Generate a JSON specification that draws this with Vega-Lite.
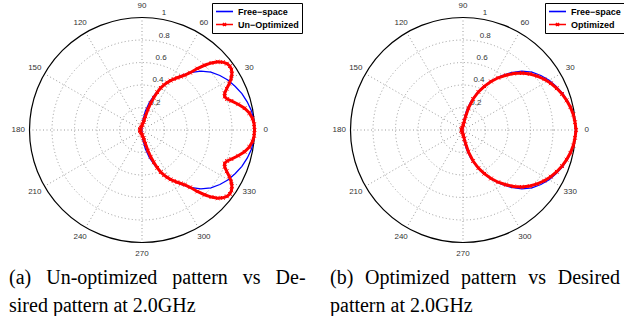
{
  "$schema": "https://vega.github.io/schema/vega-lite/v6.json",
  "padding": 0,
  "background": "white",
  "spacing": 37,
  "bounds": "flush",
  "config": {
    "view": {"stroke": null},
    "legend": {
      "title": null,
      "symbolType": "M-2,0L2,0",
      "symbolSize": 72,
      "symbolStrokeWidth": 1.6,
      "symbolOffset": 4,
      "labelOffset": 8,
      "labelFont": "Liberation Sans",
      "labelFontWeight": "bold",
      "labelFontSize": 9,
      "labelColor": "black",
      "strokeColor": "black",
      "fillColor": "white",
      "padding": 3,
      "cornerRadius": 0,
      "rowPadding": 2
    }
  },
  "resolve": {"scale": {"color": "independent", "shape": "independent"}, "legend": {"color": "independent", "shape": "independent"}},
  "datasets": {
    "rings": [{"r": 0.2}, {"r": 0.4}, {"r": 0.6}, {"r": 0.8}],
    "outer": [{"r": 1}],
    "spokes": [{"a": 0}, {"a": 30}, {"a": 60}, {"a": 90}, {"a": 120}, {"a": 150}, {"a": 180}, {"a": 210}, {"a": 240}, {"a": 270}, {"a": 300}, {"a": 330}],
    "alabels": [{"a": 0, "t": "0"}, {"a": 30, "t": "30"}, {"a": 60, "t": "60"}, {"a": 90, "t": "90"}, {"a": 120, "t": "120"}, {"a": 150, "t": "150"}, {"a": 180, "t": "180"}, {"a": 210, "t": "210"}, {"a": 240, "t": "240"}, {"a": 270, "t": "270"}, {"a": 300, "t": "300"}, {"a": 330, "t": "330"}],
    "rlabels": [{"r": 0.2, "t": "0.2"}, {"r": 0.4, "t": "0.4"}, {"r": 0.6, "t": "0.6"}, {"r": 0.8, "t": "0.8"}, {"r": 1, "t": "1"}],
    "left": [
      {"s": "Free\u2212space", "a": -180, "r": 0.01}, {"s": "Free\u2212space", "a": -135, "r": 0.01}, {"s": "Free\u2212space", "a": -90, "r": 0.012},
      {"s": "Free\u2212space", "a": -85, "r": 0.085}, {"s": "Free\u2212space", "a": -80, "r": 0.17}, {"s": "Free\u2212space", "a": -75, "r": 0.255},
      {"s": "Free\u2212space", "a": -70, "r": 0.34}, {"s": "Free\u2212space", "a": -65, "r": 0.425}, {"s": "Free\u2212space", "a": -60, "r": 0.505},
      {"s": "Free\u2212space", "a": -55, "r": 0.585}, {"s": "Free\u2212space", "a": -50, "r": 0.665}, {"s": "Free\u2212space", "a": -45, "r": 0.74},
      {"s": "Free\u2212space", "a": -40, "r": 0.8}, {"s": "Free\u2212space", "a": -35, "r": 0.845}, {"s": "Free\u2212space", "a": -30, "r": 0.885},
      {"s": "Free\u2212space", "a": -25, "r": 0.915}, {"s": "Free\u2212space", "a": -20, "r": 0.945}, {"s": "Free\u2212space", "a": -15, "r": 0.968},
      {"s": "Free\u2212space", "a": -10, "r": 0.988}, {"s": "Free\u2212space", "a": -5, "r": 0.997}, {"s": "Free\u2212space", "a": 0, "r": 1.0},
      {"s": "Free\u2212space", "a": 5, "r": 0.997}, {"s": "Free\u2212space", "a": 10, "r": 0.988}, {"s": "Free\u2212space", "a": 15, "r": 0.968},
      {"s": "Free\u2212space", "a": 20, "r": 0.945}, {"s": "Free\u2212space", "a": 25, "r": 0.915}, {"s": "Free\u2212space", "a": 30, "r": 0.885},
      {"s": "Free\u2212space", "a": 35, "r": 0.845}, {"s": "Free\u2212space", "a": 40, "r": 0.8}, {"s": "Free\u2212space", "a": 45, "r": 0.74},
      {"s": "Free\u2212space", "a": 50, "r": 0.665}, {"s": "Free\u2212space", "a": 55, "r": 0.585}, {"s": "Free\u2212space", "a": 60, "r": 0.505},
      {"s": "Free\u2212space", "a": 65, "r": 0.425}, {"s": "Free\u2212space", "a": 70, "r": 0.34}, {"s": "Free\u2212space", "a": 75, "r": 0.255},
      {"s": "Free\u2212space", "a": 80, "r": 0.17}, {"s": "Free\u2212space", "a": 85, "r": 0.085}, {"s": "Free\u2212space", "a": 90, "r": 0.012},
      {"s": "Free\u2212space", "a": 135, "r": 0.01}, {"s": "Free\u2212space", "a": 180, "r": 0.01},
      {"s": "Un\u2212Optimized", "a": -180, "r": 0.018}, {"s": "Un\u2212Optimized", "a": -150, "r": 0.018}, {"s": "Un\u2212Optimized", "a": -120, "r": 0.021},
      {"s": "Un\u2212Optimized", "a": -100, "r": 0.03}, {"s": "Un\u2212Optimized", "a": -90, "r": 0.042}, {"s": "Un\u2212Optimized", "a": -85, "r": 0.053},
      {"s": "Un\u2212Optimized", "a": -80, "r": 0.072}, {"s": "Un\u2212Optimized", "a": -78, "r": 0.092}, {"s": "Un\u2212Optimized", "a": -76, "r": 0.125},
      {"s": "Un\u2212Optimized", "a": -74, "r": 0.19}, {"s": "Un\u2212Optimized", "a": -72, "r": 0.25}, {"s": "Un\u2212Optimized", "a": -70, "r": 0.306},
      {"s": "Un\u2212Optimized", "a": -68, "r": 0.362}, {"s": "Un\u2212Optimized", "a": -66, "r": 0.41}, {"s": "Un\u2212Optimized", "a": -64, "r": 0.447},
      {"s": "Un\u2212Optimized", "a": -62, "r": 0.478}, {"s": "Un\u2212Optimized", "a": -60, "r": 0.507}, {"s": "Un\u2212Optimized", "a": -58, "r": 0.533},
      {"s": "Un\u2212Optimized", "a": -56, "r": 0.56}, {"s": "Un\u2212Optimized", "a": -54, "r": 0.588}, {"s": "Un\u2212Optimized", "a": -52, "r": 0.618},
      {"s": "Un\u2212Optimized", "a": -50, "r": 0.665}, {"s": "Un\u2212Optimized", "a": -48, "r": 0.735}, {"s": "Un\u2212Optimized", "a": -46, "r": 0.8},
      {"s": "Un\u2212Optimized", "a": -44, "r": 0.858}, {"s": "Un\u2212Optimized", "a": -42, "r": 0.905}, {"s": "Un\u2212Optimized", "a": -40, "r": 0.938},
      {"s": "Un\u2212Optimized", "a": -38, "r": 0.958}, {"s": "Un\u2212Optimized", "a": -36, "r": 0.966}, {"s": "Un\u2212Optimized", "a": -34, "r": 0.96},
      {"s": "Un\u2212Optimized", "a": -32, "r": 0.942}, {"s": "Un\u2212Optimized", "a": -30, "r": 0.915}, {"s": "Un\u2212Optimized", "a": -28, "r": 0.878},
      {"s": "Un\u2212Optimized", "a": -26, "r": 0.838}, {"s": "Un\u2212Optimized", "a": -24, "r": 0.805}, {"s": "Un\u2212Optimized", "a": -22, "r": 0.792},
      {"s": "Un\u2212Optimized", "a": -20, "r": 0.805}, {"s": "Un\u2212Optimized", "a": -18, "r": 0.835}, {"s": "Un\u2212Optimized", "a": -15, "r": 0.885},
      {"s": "Un\u2212Optimized", "a": -12, "r": 0.932}, {"s": "Un\u2212Optimized", "a": -9, "r": 0.966}, {"s": "Un\u2212Optimized", "a": -6, "r": 0.988},
      {"s": "Un\u2212Optimized", "a": -3, "r": 0.998}, {"s": "Un\u2212Optimized", "a": 0, "r": 1.0}, {"s": "Un\u2212Optimized", "a": 3, "r": 0.998},
      {"s": "Un\u2212Optimized", "a": 6, "r": 0.988}, {"s": "Un\u2212Optimized", "a": 9, "r": 0.966}, {"s": "Un\u2212Optimized", "a": 12, "r": 0.932},
      {"s": "Un\u2212Optimized", "a": 15, "r": 0.885}, {"s": "Un\u2212Optimized", "a": 18, "r": 0.835}, {"s": "Un\u2212Optimized", "a": 20, "r": 0.805},
      {"s": "Un\u2212Optimized", "a": 22, "r": 0.792}, {"s": "Un\u2212Optimized", "a": 24, "r": 0.805}, {"s": "Un\u2212Optimized", "a": 26, "r": 0.838},
      {"s": "Un\u2212Optimized", "a": 28, "r": 0.878}, {"s": "Un\u2212Optimized", "a": 30, "r": 0.915}, {"s": "Un\u2212Optimized", "a": 32, "r": 0.942},
      {"s": "Un\u2212Optimized", "a": 34, "r": 0.96}, {"s": "Un\u2212Optimized", "a": 36, "r": 0.966}, {"s": "Un\u2212Optimized", "a": 38, "r": 0.958},
      {"s": "Un\u2212Optimized", "a": 40, "r": 0.938}, {"s": "Un\u2212Optimized", "a": 42, "r": 0.905}, {"s": "Un\u2212Optimized", "a": 44, "r": 0.858},
      {"s": "Un\u2212Optimized", "a": 46, "r": 0.8}, {"s": "Un\u2212Optimized", "a": 48, "r": 0.735}, {"s": "Un\u2212Optimized", "a": 50, "r": 0.665},
      {"s": "Un\u2212Optimized", "a": 52, "r": 0.618}, {"s": "Un\u2212Optimized", "a": 54, "r": 0.588}, {"s": "Un\u2212Optimized", "a": 56, "r": 0.56},
      {"s": "Un\u2212Optimized", "a": 58, "r": 0.533}, {"s": "Un\u2212Optimized", "a": 60, "r": 0.507}, {"s": "Un\u2212Optimized", "a": 62, "r": 0.478},
      {"s": "Un\u2212Optimized", "a": 64, "r": 0.447}, {"s": "Un\u2212Optimized", "a": 66, "r": 0.41}, {"s": "Un\u2212Optimized", "a": 68, "r": 0.362},
      {"s": "Un\u2212Optimized", "a": 70, "r": 0.306}, {"s": "Un\u2212Optimized", "a": 72, "r": 0.25}, {"s": "Un\u2212Optimized", "a": 74, "r": 0.19},
      {"s": "Un\u2212Optimized", "a": 76, "r": 0.125}, {"s": "Un\u2212Optimized", "a": 78, "r": 0.092}, {"s": "Un\u2212Optimized", "a": 80, "r": 0.072},
      {"s": "Un\u2212Optimized", "a": 85, "r": 0.053}, {"s": "Un\u2212Optimized", "a": 90, "r": 0.042}, {"s": "Un\u2212Optimized", "a": 100, "r": 0.03},
      {"s": "Un\u2212Optimized", "a": 120, "r": 0.021}, {"s": "Un\u2212Optimized", "a": 150, "r": 0.018}, {"s": "Un\u2212Optimized", "a": 180, "r": 0.018}
    ],
    "right": [
      {"s": "Free\u2212space", "a": -180, "r": 0.01}, {"s": "Free\u2212space", "a": -135, "r": 0.01}, {"s": "Free\u2212space", "a": -90, "r": 0.012},
      {"s": "Free\u2212space", "a": -85, "r": 0.085}, {"s": "Free\u2212space", "a": -80, "r": 0.17}, {"s": "Free\u2212space", "a": -75, "r": 0.255},
      {"s": "Free\u2212space", "a": -70, "r": 0.34}, {"s": "Free\u2212space", "a": -65, "r": 0.425}, {"s": "Free\u2212space", "a": -60, "r": 0.505},
      {"s": "Free\u2212space", "a": -55, "r": 0.585}, {"s": "Free\u2212space", "a": -50, "r": 0.665}, {"s": "Free\u2212space", "a": -45, "r": 0.74},
      {"s": "Free\u2212space", "a": -40, "r": 0.8}, {"s": "Free\u2212space", "a": -35, "r": 0.845}, {"s": "Free\u2212space", "a": -30, "r": 0.885},
      {"s": "Free\u2212space", "a": -25, "r": 0.915}, {"s": "Free\u2212space", "a": -20, "r": 0.945}, {"s": "Free\u2212space", "a": -15, "r": 0.968},
      {"s": "Free\u2212space", "a": -10, "r": 0.988}, {"s": "Free\u2212space", "a": -5, "r": 0.997}, {"s": "Free\u2212space", "a": 0, "r": 1.0},
      {"s": "Free\u2212space", "a": 5, "r": 0.997}, {"s": "Free\u2212space", "a": 10, "r": 0.988}, {"s": "Free\u2212space", "a": 15, "r": 0.968},
      {"s": "Free\u2212space", "a": 20, "r": 0.945}, {"s": "Free\u2212space", "a": 25, "r": 0.915}, {"s": "Free\u2212space", "a": 30, "r": 0.885},
      {"s": "Free\u2212space", "a": 35, "r": 0.845}, {"s": "Free\u2212space", "a": 40, "r": 0.8}, {"s": "Free\u2212space", "a": 45, "r": 0.74},
      {"s": "Free\u2212space", "a": 50, "r": 0.665}, {"s": "Free\u2212space", "a": 55, "r": 0.585}, {"s": "Free\u2212space", "a": 60, "r": 0.505},
      {"s": "Free\u2212space", "a": 65, "r": 0.425}, {"s": "Free\u2212space", "a": 70, "r": 0.34}, {"s": "Free\u2212space", "a": 75, "r": 0.255},
      {"s": "Free\u2212space", "a": 80, "r": 0.17}, {"s": "Free\u2212space", "a": 85, "r": 0.085}, {"s": "Free\u2212space", "a": 90, "r": 0.012},
      {"s": "Free\u2212space", "a": 135, "r": 0.01}, {"s": "Free\u2212space", "a": 180, "r": 0.01},
      {"s": "Optimized", "a": -180, "r": 0.012}, {"s": "Optimized", "a": -150, "r": 0.013}, {"s": "Optimized", "a": -110, "r": 0.022},
      {"s": "Optimized", "a": -90, "r": 0.04}, {"s": "Optimized", "a": -86, "r": 0.05}, {"s": "Optimized", "a": -82, "r": 0.08},
      {"s": "Optimized", "a": -79, "r": 0.125}, {"s": "Optimized", "a": -76, "r": 0.2}, {"s": "Optimized", "a": -72, "r": 0.29},
      {"s": "Optimized", "a": -68, "r": 0.365}, {"s": "Optimized", "a": -64, "r": 0.432}, {"s": "Optimized", "a": -60, "r": 0.498},
      {"s": "Optimized", "a": -56, "r": 0.56}, {"s": "Optimized", "a": -52, "r": 0.618}, {"s": "Optimized", "a": -48, "r": 0.675},
      {"s": "Optimized", "a": -44, "r": 0.728}, {"s": "Optimized", "a": -40, "r": 0.775}, {"s": "Optimized", "a": -36, "r": 0.815},
      {"s": "Optimized", "a": -32, "r": 0.852}, {"s": "Optimized", "a": -28, "r": 0.884}, {"s": "Optimized", "a": -24, "r": 0.912},
      {"s": "Optimized", "a": -20, "r": 0.937}, {"s": "Optimized", "a": -16, "r": 0.958}, {"s": "Optimized", "a": -12, "r": 0.976},
      {"s": "Optimized", "a": -8, "r": 0.99}, {"s": "Optimized", "a": -4, "r": 0.998}, {"s": "Optimized", "a": 0, "r": 1.005},
      {"s": "Optimized", "a": 4, "r": 0.998}, {"s": "Optimized", "a": 8, "r": 0.99}, {"s": "Optimized", "a": 12, "r": 0.976},
      {"s": "Optimized", "a": 16, "r": 0.958}, {"s": "Optimized", "a": 20, "r": 0.937}, {"s": "Optimized", "a": 24, "r": 0.912},
      {"s": "Optimized", "a": 28, "r": 0.884}, {"s": "Optimized", "a": 32, "r": 0.852}, {"s": "Optimized", "a": 36, "r": 0.815},
      {"s": "Optimized", "a": 40, "r": 0.775}, {"s": "Optimized", "a": 44, "r": 0.728}, {"s": "Optimized", "a": 48, "r": 0.675},
      {"s": "Optimized", "a": 52, "r": 0.618}, {"s": "Optimized", "a": 56, "r": 0.56}, {"s": "Optimized", "a": 60, "r": 0.498},
      {"s": "Optimized", "a": 64, "r": 0.432}, {"s": "Optimized", "a": 68, "r": 0.365}, {"s": "Optimized", "a": 72, "r": 0.29},
      {"s": "Optimized", "a": 76, "r": 0.2}, {"s": "Optimized", "a": 79, "r": 0.125}, {"s": "Optimized", "a": 82, "r": 0.08},
      {"s": "Optimized", "a": 86, "r": 0.05}, {"s": "Optimized", "a": 90, "r": 0.04}, {"s": "Optimized", "a": 110, "r": 0.022},
      {"s": "Optimized", "a": 150, "r": 0.013}, {"s": "Optimized", "a": 180, "r": 0.012}
    ]
  },
  "hconcat": [
    {
      "width": 284,
      "height": 260,
      "title": {
        "text": ["(a)\u2002\u2005Un-optimized\u2002\u2005pattern\u2002\u2005vs\u2002\u2005De-", "sired pattern at 2.0GHz"],
        "orient": "bottom", "anchor": "start", "frame": "group", "dx": 9, "offset": 8, "baseline": "top",
        "font": "Liberation Serif", "fontSize": 20, "fontWeight": "normal", "color": "black", "lineHeight": 28
      },
      "layer": [
        {
          "data": {"name": "rings"},
          "transform": [{"calculate": "0", "as": "o"}],
          "mark": {"type": "point", "shape": "circle", "filled": false, "stroke": "#9a9a9a", "strokeWidth": 1, "strokeDash": [1, 2.5], "opacity": 1},
          "encoding": {
            "x": {"field": "o", "type": "quantitative", "scale": {"domain": [-1.2622, 1.2622], "nice": false, "zero": false}, "axis": null},
            "y": {"field": "o", "type": "quantitative", "scale": {"domain": [-1.1556, 1.1556], "nice": false, "zero": false}, "axis": null},
            "size": {"field": "r", "type": "quantitative", "scale": {"type": "pow", "exponent": 2, "domain": [0, 1], "range": [0, 50625], "zero": true, "nice": false}, "legend": null}
          }
        },
        {
          "data": {"name": "spokes"},
          "transform": [{"calculate": "0", "as": "o"}, {"calculate": "cos(datum.a*PI/180)", "as": "cx"}, {"calculate": "sin(datum.a*PI/180)", "as": "cy"}],
          "mark": {"type": "rule", "stroke": "#9a9a9a", "strokeWidth": 1, "strokeDash": [1, 2.5]},
          "encoding": {
            "x": {"field": "o", "type": "quantitative", "scale": {"domain": [-1.2622, 1.2622], "nice": false, "zero": false}, "axis": null},
            "y": {"field": "o", "type": "quantitative", "scale": {"domain": [-1.1556, 1.1556], "nice": false, "zero": false}, "axis": null},
            "x2": {"field": "cx"},
            "y2": {"field": "cy"}
          }
        },
        {
          "data": {"name": "outer"},
          "transform": [{"calculate": "0", "as": "o"}],
          "mark": {"type": "point", "shape": "circle", "filled": false, "stroke": "black", "strokeWidth": 1.2, "opacity": 1},
          "encoding": {
            "x": {"field": "o", "type": "quantitative", "scale": {"domain": [-1.2622, 1.2622], "nice": false, "zero": false}, "axis": null},
            "y": {"field": "o", "type": "quantitative", "scale": {"domain": [-1.1556, 1.1556], "nice": false, "zero": false}, "axis": null},
            "size": {"field": "r", "type": "quantitative", "scale": {"type": "pow", "exponent": 2, "domain": [0, 1], "range": [0, 50625], "zero": true, "nice": false}, "legend": null}
          }
        },
        {
          "data": {"name": "alabels"},
          "transform": [{"calculate": "1.1*cos(datum.a*PI/180)", "as": "lx"}, {"calculate": "1.1*sin(datum.a*PI/180)", "as": "ly"}],
          "mark": {"type": "text", "font": "Liberation Sans", "fontSize": 8, "color": "#333333", "align": "center", "baseline": "middle"},
          "encoding": {
            "x": {"field": "lx", "type": "quantitative", "scale": {"domain": [-1.2622, 1.2622], "nice": false, "zero": false}, "axis": null},
            "y": {"field": "ly", "type": "quantitative", "scale": {"domain": [-1.1556, 1.1556], "nice": false, "zero": false}, "axis": null},
            "text": {"field": "t"}
          }
        },
        {
          "data": {"name": "rlabels"},
          "transform": [{"calculate": "(datum.r+0.01)*cos(82*PI/180)", "as": "lx"}, {"calculate": "(datum.r+0.01)*sin(82*PI/180)", "as": "ly"}],
          "mark": {"type": "text", "font": "Liberation Sans", "fontSize": 8, "color": "#333333", "align": "left", "baseline": "bottom", "dx": 4},
          "encoding": {
            "x": {"field": "lx", "type": "quantitative", "scale": {"domain": [-1.2622, 1.2622], "nice": false, "zero": false}, "axis": null},
            "y": {"field": "ly", "type": "quantitative", "scale": {"domain": [-1.1556, 1.1556], "nice": false, "zero": false}, "axis": null},
            "text": {"field": "t"}
          }
        },
        {
          "data": {"name": "left"},
          "transform": [{"filter": "datum.s == 'Free\u2212space'"}, {"calculate": "datum.r*cos(datum.a*PI/180)", "as": "x"}, {"calculate": "datum.r*sin(datum.a*PI/180)", "as": "y"}],
          "mark": {"type": "line", "strokeWidth": 1.3},
          "encoding": {
            "x": {"field": "x", "type": "quantitative", "scale": {"domain": [-1.2622, 1.2622], "nice": false, "zero": false}, "axis": null},
            "y": {"field": "y", "type": "quantitative", "scale": {"domain": [-1.1556, 1.1556], "nice": false, "zero": false}, "axis": null},
            "order": {"field": "a", "type": "quantitative"},
            "color": {"field": "s", "type": "nominal", "scale": {"domain": ["Free\u2212space", "Un\u2212Optimized"], "range": ["#0000ff", "#ff0000"]}, "legend": {"orient": "none", "legendX": 212, "legendY": 3}}
          }
        },
        {
          "data": {"name": "left"},
          "transform": [{"filter": "datum.s != 'Free\u2212space'"}, {"calculate": "datum.r*cos(datum.a*PI/180)", "as": "x"}, {"calculate": "datum.r*sin(datum.a*PI/180)", "as": "y"}],
          "mark": {"type": "line", "strokeWidth": 3},
          "encoding": {
            "x": {"field": "x", "type": "quantitative", "scale": {"domain": [-1.2622, 1.2622], "nice": false, "zero": false}, "axis": null},
            "y": {"field": "y", "type": "quantitative", "scale": {"domain": [-1.1556, 1.1556], "nice": false, "zero": false}, "axis": null},
            "order": {"field": "a", "type": "quantitative"},
            "color": {"field": "s", "type": "nominal", "scale": {"domain": ["Free\u2212space", "Un\u2212Optimized"], "range": ["#0000ff", "#ff0000"]}, "legend": {"orient": "none", "legendX": 212, "legendY": 3}}
          }
        },
        {
          "data": {"name": "left"},
          "transform": [{"filter": "datum.s != 'Free\u2212space'"}, {"calculate": "datum.r*cos(datum.a*PI/180)", "as": "x"}, {"calculate": "datum.r*sin(datum.a*PI/180)", "as": "y"}],
          "mark": {"type": "point", "shape": "M-1,-1L1,1M-1,1L1,-1", "size": 14, "strokeWidth": 1, "filled": false, "opacity": 1},
          "encoding": {
            "x": {"field": "x", "type": "quantitative", "scale": {"domain": [-1.2622, 1.2622], "nice": false, "zero": false}, "axis": null},
            "y": {"field": "y", "type": "quantitative", "scale": {"domain": [-1.1556, 1.1556], "nice": false, "zero": false}, "axis": null},
            "color": {"field": "s", "type": "nominal", "scale": {"domain": ["Free\u2212space", "Un\u2212Optimized"], "range": ["#0000ff", "#ff0000"]}, "legend": {"orient": "none", "legendX": 212, "legendY": 3}}
          }
        },
        {
          "data": {"name": "left"},
          "transform": [{"filter": "false"}],
          "mark": {"type": "point", "filled": false, "strokeWidth": 1.6, "opacity": 1},
          "encoding": {
            "x": {"field": "a", "type": "quantitative", "scale": {"domain": [-1.2622, 1.2622], "nice": false, "zero": false}, "axis": null},
            "y": {"field": "r", "type": "quantitative", "scale": {"domain": [-1.1556, 1.1556], "nice": false, "zero": false}, "axis": null},
            "color": {"field": "s", "type": "nominal", "scale": {"domain": ["Free\u2212space", "Un\u2212Optimized"], "range": ["#0000ff", "#ff0000"]}, "legend": {"orient": "none", "legendX": 212, "legendY": 3}},
            "shape": {"field": "s", "type": "nominal", "scale": {"domain": ["Free\u2212space", "Un\u2212Optimized"], "range": ["M-2,0L2,0", "M-2,0L2,0M-0.35,-0.35L0.35,0.35M-0.35,0.35L0.35,-0.35"]}, "legend": {"orient": "none", "legendX": 212, "legendY": 3}}
          }
        }
      ]
    },
    {
      "width": 284,
      "height": 260,
      "title": {
        "text": ["(b)\u2002\u200AOptimized\u2002\u200Apattern\u2002\u200Avs\u2002\u200ADesired", "pattern at 2.0GHz"],
        "orient": "bottom", "anchor": "start", "frame": "group", "dx": 9, "offset": 8, "baseline": "top",
        "font": "Liberation Serif", "fontSize": 20, "fontWeight": "normal", "color": "black", "lineHeight": 28
      },
      "layer": [
        {
          "data": {"name": "rings"},
          "transform": [{"calculate": "0", "as": "o"}],
          "mark": {"type": "point", "shape": "circle", "filled": false, "stroke": "#9a9a9a", "strokeWidth": 1, "strokeDash": [1, 2.5], "opacity": 1},
          "encoding": {
            "x": {"field": "o", "type": "quantitative", "scale": {"domain": [-1.2622, 1.2622], "nice": false, "zero": false}, "axis": null},
            "y": {"field": "o", "type": "quantitative", "scale": {"domain": [-1.1556, 1.1556], "nice": false, "zero": false}, "axis": null},
            "size": {"field": "r", "type": "quantitative", "scale": {"type": "pow", "exponent": 2, "domain": [0, 1], "range": [0, 50625], "zero": true, "nice": false}, "legend": null}
          }
        },
        {
          "data": {"name": "spokes"},
          "transform": [{"calculate": "0", "as": "o"}, {"calculate": "cos(datum.a*PI/180)", "as": "cx"}, {"calculate": "sin(datum.a*PI/180)", "as": "cy"}],
          "mark": {"type": "rule", "stroke": "#9a9a9a", "strokeWidth": 1, "strokeDash": [1, 2.5]},
          "encoding": {
            "x": {"field": "o", "type": "quantitative", "scale": {"domain": [-1.2622, 1.2622], "nice": false, "zero": false}, "axis": null},
            "y": {"field": "o", "type": "quantitative", "scale": {"domain": [-1.1556, 1.1556], "nice": false, "zero": false}, "axis": null},
            "x2": {"field": "cx"},
            "y2": {"field": "cy"}
          }
        },
        {
          "data": {"name": "outer"},
          "transform": [{"calculate": "0", "as": "o"}],
          "mark": {"type": "point", "shape": "circle", "filled": false, "stroke": "black", "strokeWidth": 1.2, "opacity": 1},
          "encoding": {
            "x": {"field": "o", "type": "quantitative", "scale": {"domain": [-1.2622, 1.2622], "nice": false, "zero": false}, "axis": null},
            "y": {"field": "o", "type": "quantitative", "scale": {"domain": [-1.1556, 1.1556], "nice": false, "zero": false}, "axis": null},
            "size": {"field": "r", "type": "quantitative", "scale": {"type": "pow", "exponent": 2, "domain": [0, 1], "range": [0, 50625], "zero": true, "nice": false}, "legend": null}
          }
        },
        {
          "data": {"name": "alabels"},
          "transform": [{"calculate": "1.1*cos(datum.a*PI/180)", "as": "lx"}, {"calculate": "1.1*sin(datum.a*PI/180)", "as": "ly"}],
          "mark": {"type": "text", "font": "Liberation Sans", "fontSize": 8, "color": "#333333", "align": "center", "baseline": "middle"},
          "encoding": {
            "x": {"field": "lx", "type": "quantitative", "scale": {"domain": [-1.2622, 1.2622], "nice": false, "zero": false}, "axis": null},
            "y": {"field": "ly", "type": "quantitative", "scale": {"domain": [-1.1556, 1.1556], "nice": false, "zero": false}, "axis": null},
            "text": {"field": "t"}
          }
        },
        {
          "data": {"name": "rlabels"},
          "transform": [{"calculate": "(datum.r+0.01)*cos(82*PI/180)", "as": "lx"}, {"calculate": "(datum.r+0.01)*sin(82*PI/180)", "as": "ly"}],
          "mark": {"type": "text", "font": "Liberation Sans", "fontSize": 8, "color": "#333333", "align": "left", "baseline": "bottom", "dx": 4},
          "encoding": {
            "x": {"field": "lx", "type": "quantitative", "scale": {"domain": [-1.2622, 1.2622], "nice": false, "zero": false}, "axis": null},
            "y": {"field": "ly", "type": "quantitative", "scale": {"domain": [-1.1556, 1.1556], "nice": false, "zero": false}, "axis": null},
            "text": {"field": "t"}
          }
        },
        {
          "data": {"name": "right"},
          "transform": [{"filter": "datum.s == 'Free\u2212space'"}, {"calculate": "datum.r*cos(datum.a*PI/180)", "as": "x"}, {"calculate": "datum.r*sin(datum.a*PI/180)", "as": "y"}],
          "mark": {"type": "line", "strokeWidth": 1.3},
          "encoding": {
            "x": {"field": "x", "type": "quantitative", "scale": {"domain": [-1.2622, 1.2622], "nice": false, "zero": false}, "axis": null},
            "y": {"field": "y", "type": "quantitative", "scale": {"domain": [-1.1556, 1.1556], "nice": false, "zero": false}, "axis": null},
            "order": {"field": "a", "type": "quantitative"},
            "color": {"field": "s", "type": "nominal", "scale": {"domain": ["Free\u2212space", "Optimized"], "range": ["#0000ff", "#ff0000"]}, "legend": {"orient": "none", "legendX": 224, "legendY": 3}}
          }
        },
        {
          "data": {"name": "right"},
          "transform": [{"filter": "datum.s != 'Free\u2212space'"}, {"calculate": "datum.r*cos(datum.a*PI/180)", "as": "x"}, {"calculate": "datum.r*sin(datum.a*PI/180)", "as": "y"}],
          "mark": {"type": "line", "strokeWidth": 3},
          "encoding": {
            "x": {"field": "x", "type": "quantitative", "scale": {"domain": [-1.2622, 1.2622], "nice": false, "zero": false}, "axis": null},
            "y": {"field": "y", "type": "quantitative", "scale": {"domain": [-1.1556, 1.1556], "nice": false, "zero": false}, "axis": null},
            "order": {"field": "a", "type": "quantitative"},
            "color": {"field": "s", "type": "nominal", "scale": {"domain": ["Free\u2212space", "Optimized"], "range": ["#0000ff", "#ff0000"]}, "legend": {"orient": "none", "legendX": 224, "legendY": 3}}
          }
        },
        {
          "data": {"name": "right"},
          "transform": [{"filter": "datum.s != 'Free\u2212space'"}, {"calculate": "datum.r*cos(datum.a*PI/180)", "as": "x"}, {"calculate": "datum.r*sin(datum.a*PI/180)", "as": "y"}],
          "mark": {"type": "point", "shape": "M-1,-1L1,1M-1,1L1,-1", "size": 14, "strokeWidth": 1, "filled": false, "opacity": 1},
          "encoding": {
            "x": {"field": "x", "type": "quantitative", "scale": {"domain": [-1.2622, 1.2622], "nice": false, "zero": false}, "axis": null},
            "y": {"field": "y", "type": "quantitative", "scale": {"domain": [-1.1556, 1.1556], "nice": false, "zero": false}, "axis": null},
            "color": {"field": "s", "type": "nominal", "scale": {"domain": ["Free\u2212space", "Optimized"], "range": ["#0000ff", "#ff0000"]}, "legend": {"orient": "none", "legendX": 224, "legendY": 3}}
          }
        },
        {
          "data": {"name": "right"},
          "transform": [{"filter": "false"}],
          "mark": {"type": "point", "filled": false, "strokeWidth": 1.6, "opacity": 1},
          "encoding": {
            "x": {"field": "a", "type": "quantitative", "scale": {"domain": [-1.2622, 1.2622], "nice": false, "zero": false}, "axis": null},
            "y": {"field": "r", "type": "quantitative", "scale": {"domain": [-1.1556, 1.1556], "nice": false, "zero": false}, "axis": null},
            "color": {"field": "s", "type": "nominal", "scale": {"domain": ["Free\u2212space", "Optimized"], "range": ["#0000ff", "#ff0000"]}, "legend": {"orient": "none", "legendX": 224, "legendY": 3}},
            "shape": {"field": "s", "type": "nominal", "scale": {"domain": ["Free\u2212space", "Optimized"], "range": ["M-2,0L2,0", "M-2,0L2,0M-0.35,-0.35L0.35,0.35M-0.35,0.35L0.35,-0.35"]}, "legend": {"orient": "none", "legendX": 224, "legendY": 3}}
          }
        }
      ]
    }
  ]
}
